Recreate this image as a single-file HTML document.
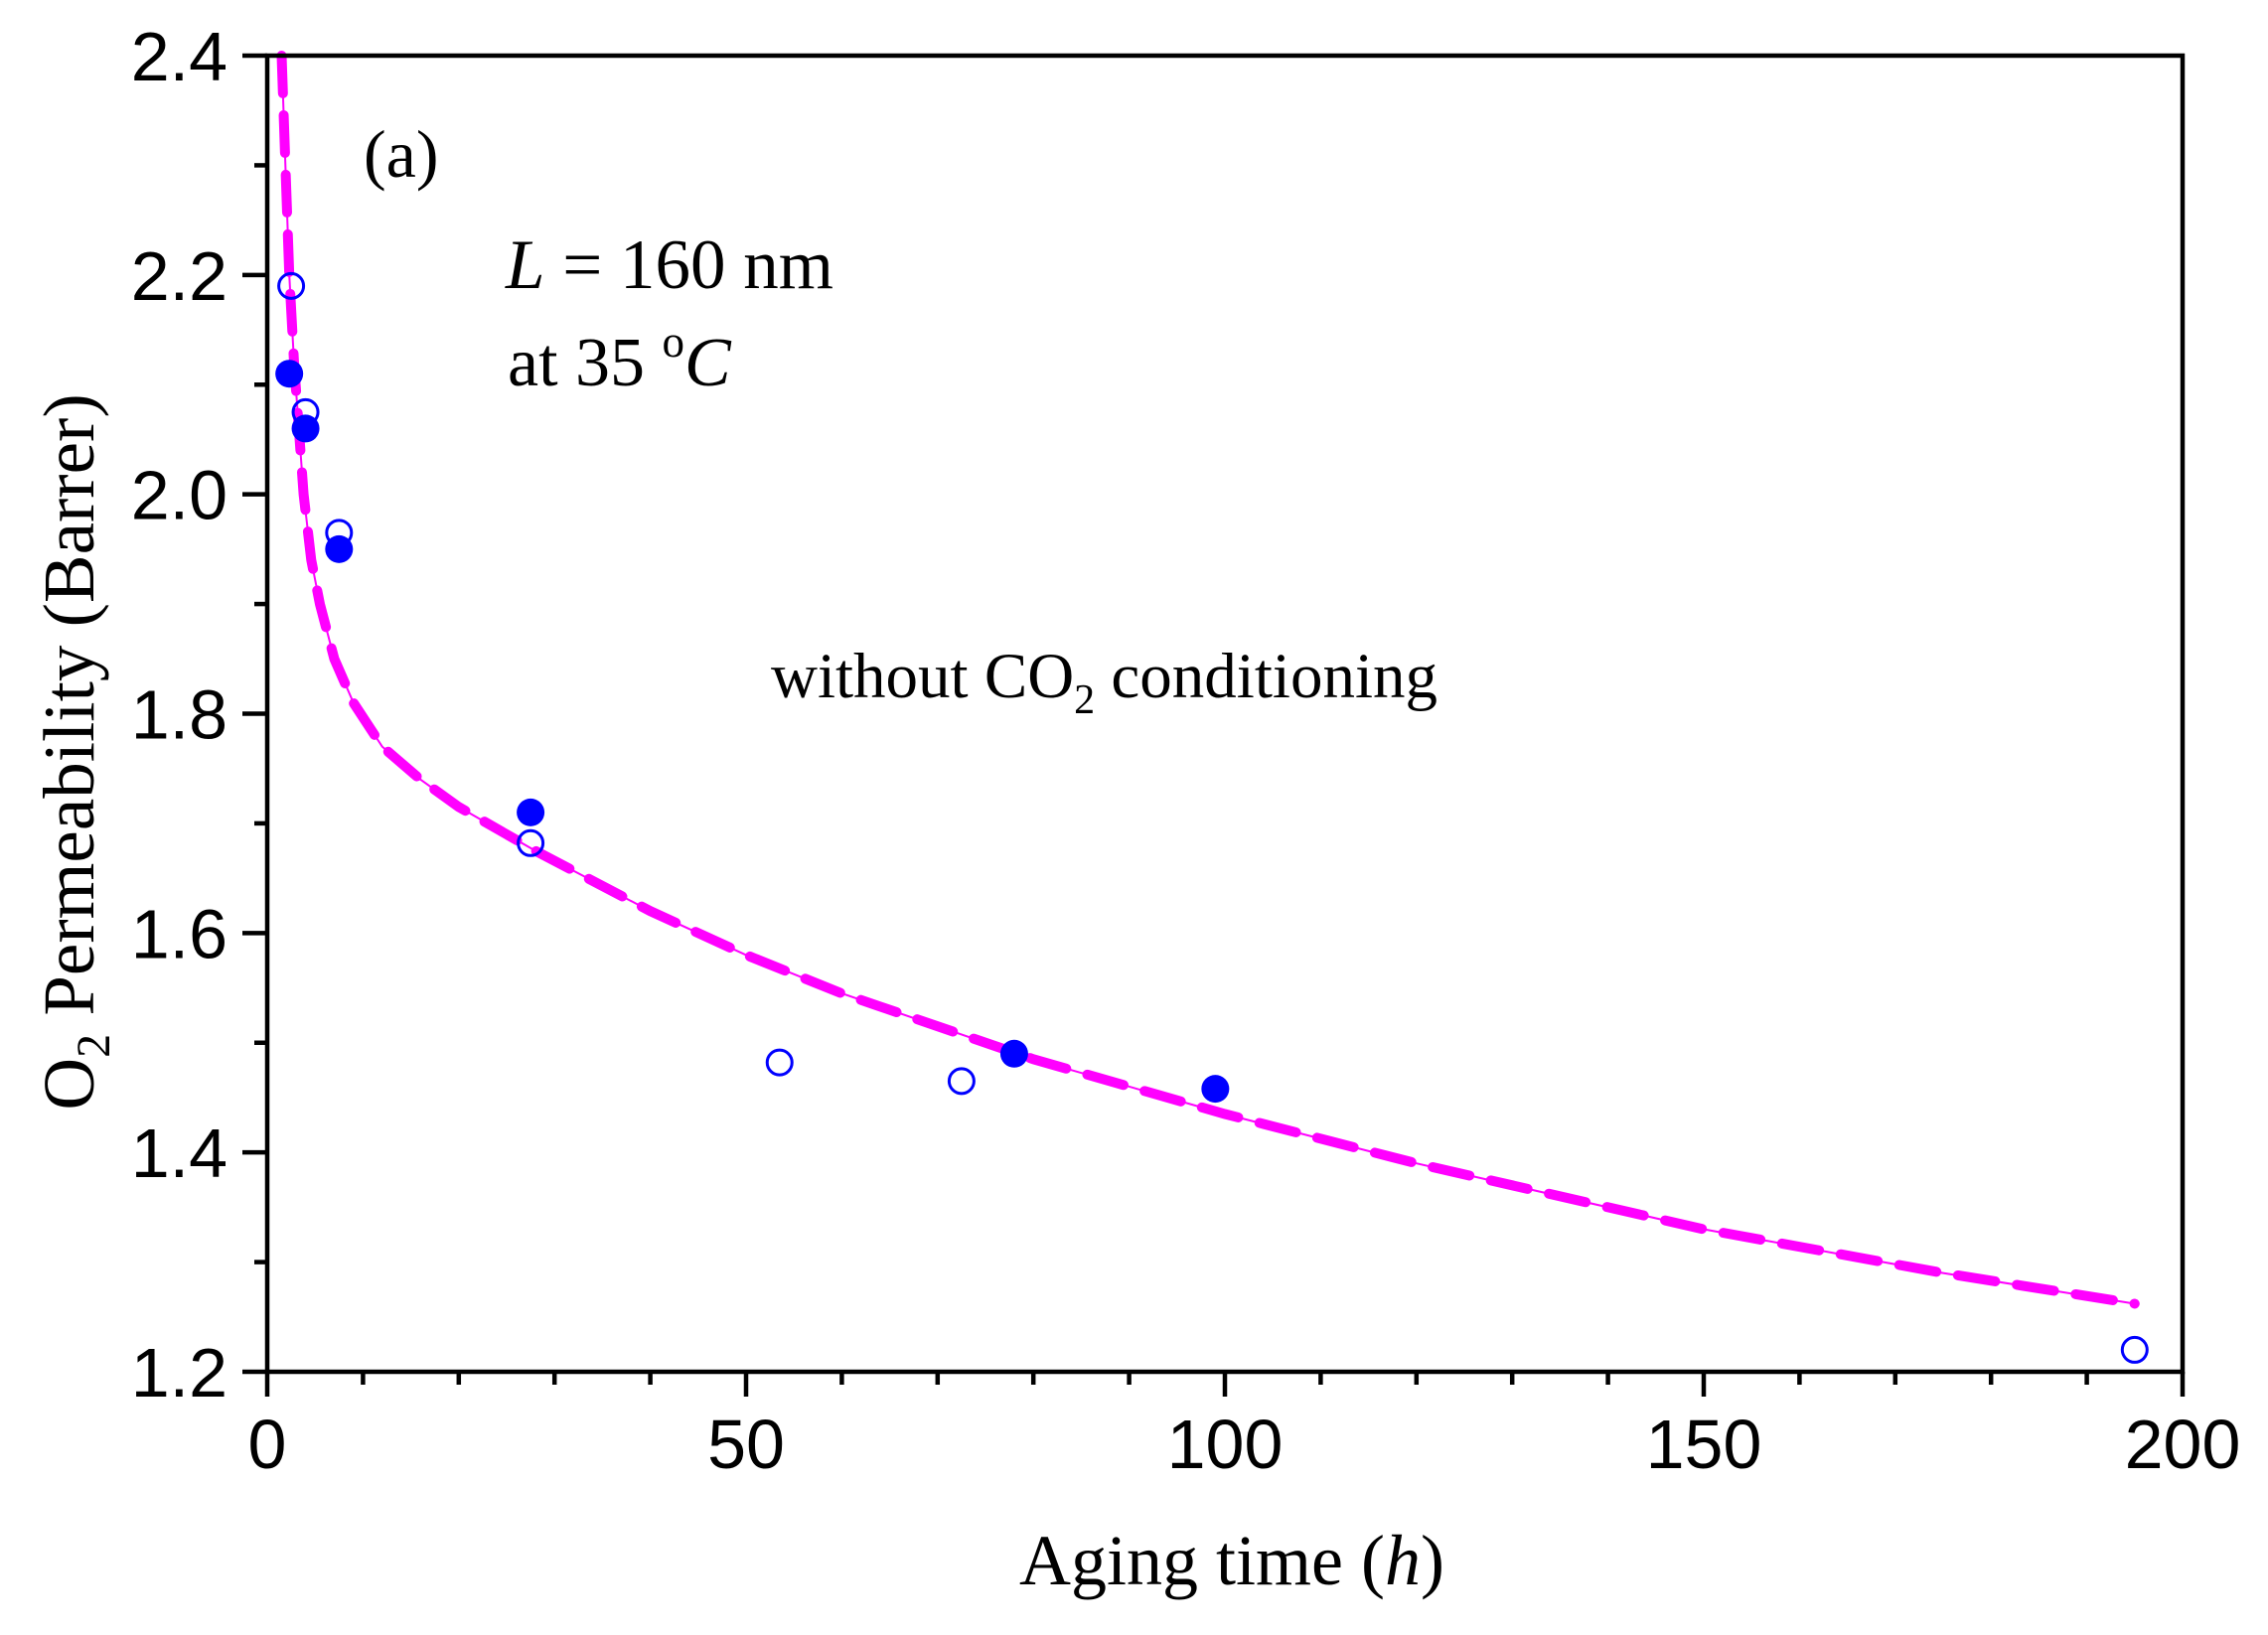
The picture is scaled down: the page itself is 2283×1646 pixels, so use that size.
<!DOCTYPE html>
<html><head><meta charset="utf-8"><style>
html,body{margin:0;padding:0;background:#fff;}
svg{display:block;}
</style></head><body>
<svg id="chart" width="2283" height="1646" viewBox="0 0 2283 1646" xmlns="http://www.w3.org/2000/svg">
<g id="plot"></g>
</svg>
<script>
const xTicks=[0,50,100,150,200];
const yTicks=[1.2,1.4,1.6,1.8,2.0,2.2,2.4];
const yTickLabels=["1.2","1.4","1.6","1.8","2.0","2.2","2.4"];
const openT=[2.5,4,7.5,27.5,53.5,72.5,195];
const openP=[2.19,2.075,1.965,1.682,1.482,1.465,1.22];
const filledT=[2.3,4,7.5,27.5,78,99];
const filledP=[2.11,2.06,1.95,1.71,1.49,1.458];
const fitT=[1.5,1.9,2.3,2.8,3.3,3.8,4.6,5.5,7,9,12,16,20,28,40,50,60,80,100,120,150,175,195];
const fitP=[2.4,2.3,2.2,2.12,2.06,2.0,1.94,1.9,1.85,1.81,1.77,1.74,1.715,1.675,1.62,1.58,1.545,1.485,1.435,1.39,1.33,1.29,1.262];

const X0=269,X1=2197,Y0=1381,Y1=56;
const xs=v=>X0+(v-0)/(200-0)*(X1-X0);
const ys=v=>Y0-(v-1.2)/(2.4-1.2)*(Y0-Y1);
const NS="http://www.w3.org/2000/svg";
const g=document.getElementById('plot');
function mk(tag,attrs,parent){const e=document.createElementNS(NS,tag);for(const k in attrs)e.setAttribute(k,attrs[k]);(parent||g).appendChild(e);return e;}

let d=fitT.map((t,i)=>(i?'L':'M')+xs(t).toFixed(1)+' '+ys(fitP[i]).toFixed(1)).join(' ');
const thin=mk('path',{d:d,fill:'none',stroke:'#ff00ff','stroke-width':2});


const dash=mk('path',{d:d,fill:'none',stroke:'#ff00ff','stroke-width':10,'stroke-dasharray':'38 22','stroke-linecap':'round'});



openT.forEach((t,i)=>{
 const c=mk('circle',{cx:xs(t),cy:ys(openP[i]),r:12.5,fill:'none',stroke:'#0000ff','stroke-width':3});
 
 
});
filledT.forEach((t,i)=>{
 const c=mk('circle',{cx:xs(t),cy:ys(filledP[i]),r:14,fill:'#0000ff'});
 
 
});

const fr=mk('rect',{x:X0,y:Y1,width:X1-X0,height:Y0-Y1,fill:'none',stroke:'#000','stroke-width':4.5});



for(let v=0;v<=200;v+=10){
 const major=v%50===0;
 const t=mk('line',{x1:xs(v),x2:xs(v),y1:Y0,y2:Y0+(major?25:13),stroke:'#000','stroke-width':4.5});
 
 
}
xTicks.forEach(v=>{
 const t=mk('text',{x:xs(v),y:1478,'text-anchor':'middle','font-family':'Liberation Sans, Arial, sans-serif','font-size':70});
 t.textContent=v;
 
 
});
for(let k=0;k<=12;k++){
 const v=1.2+k*0.1;const major=k%2===0;
 const t=mk('line',{x1:X0,x2:X0-(major?25:13),y1:ys(v),y2:ys(v),stroke:'#000','stroke-width':4.5});
 
 
}
yTicks.forEach((v,i)=>{
 const t=mk('text',{x:229,y:ys(v)+25,'text-anchor':'end','font-family':'Liberation Sans, Arial, sans-serif','font-size':70});
 t.textContent=yTickLabels[i];
 
 
});
</script>
<svg style="position:absolute;left:0;top:0" width="2283" height="1646" xmlns="http://www.w3.org/2000/svg" font-family="Liberation Serif, Times New Roman, serif">
<text x="1240" y="1595" text-anchor="middle" font-size="72">Aging time (<tspan font-style="italic">h</tspan>)</text>
<text transform="translate(94,757) rotate(-90)" text-anchor="middle" font-size="73">O<tspan font-size="48" dy="16">2</tspan><tspan dy="-16"> Permeability (Barrer)</tspan></text>
<text x="366" y="178" font-size="68">(a)</text>
<text x="509" y="290" font-size="71"><tspan font-style="italic">L</tspan> = 160 nm</text>
<text x="511" y="388" font-size="70">at 35 <tspan font-size="45" dy="-29">o</tspan><tspan dy="29" font-style="italic">C</tspan></text>
<text x="776" y="702" font-size="65">without CO<tspan font-size="42" dy="16">2</tspan><tspan dy="-16"> conditioning</tspan></text>
</svg>
</body></html>
